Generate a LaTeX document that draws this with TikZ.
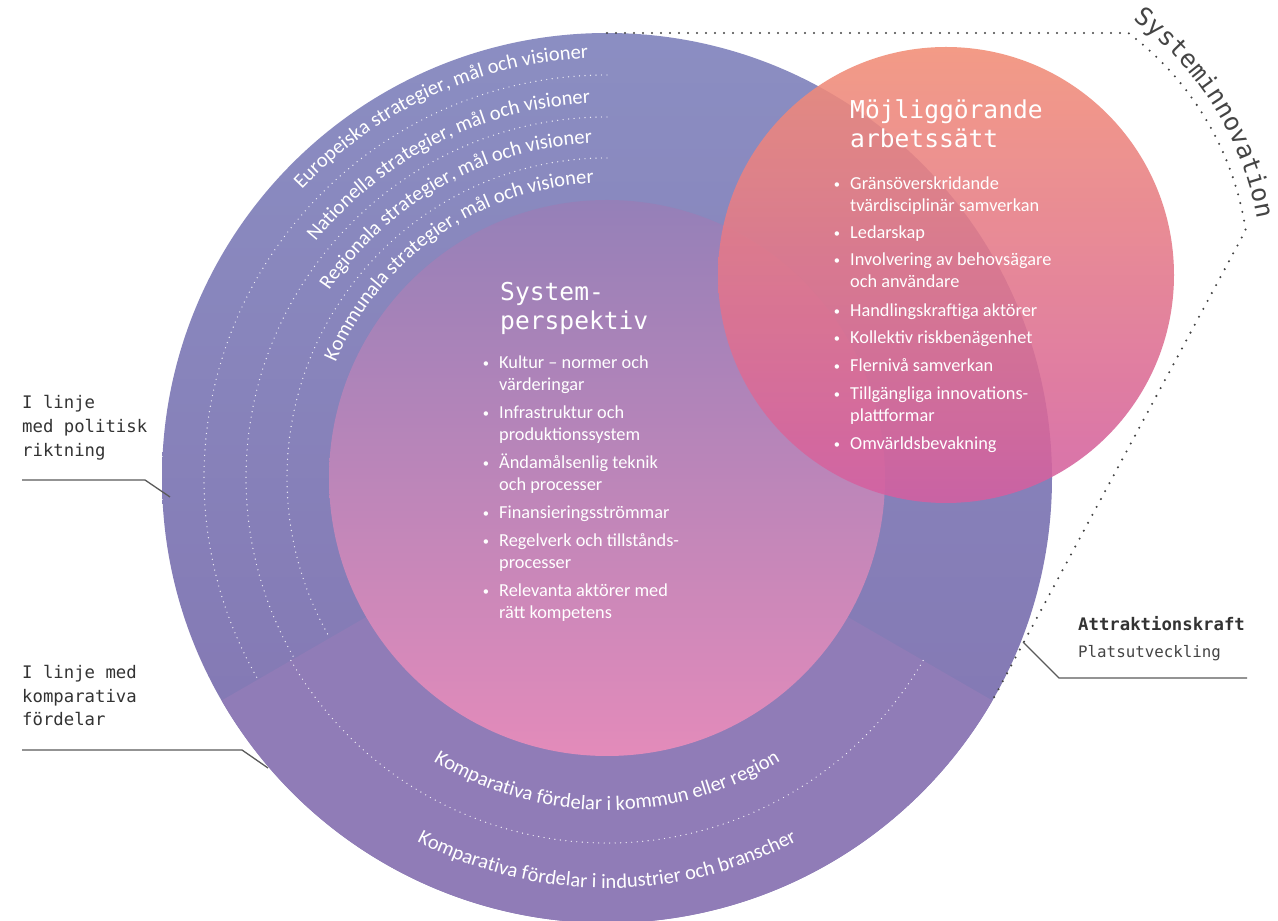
\documentclass[tikz,border=0pt]{standalone}
\usepackage{fontspec}
\setmainfont{Carlito}
\newfontfamily\monof{DejaVu Sans Mono}
\usetikzlibrary{calc,decorations.text}
\definecolor{bigtop}{HTML}{8B8EC2}
\definecolor{bigbot}{HTML}{8273B0}
\definecolor{sectorcol}{HTML}{907CB7}
\definecolor{inntop}{HTML}{9580B8}
\definecolor{innbot}{HTML}{E38BBA}
\definecolor{pinktop}{HTML}{F28E76}
\definecolor{pinkbot}{HTML}{D35FA1}
\definecolor{labelgray}{HTML}{333333}
\definecolor{leadgray}{HTML}{5A5A5A}
\definecolor{dotgray}{HTML}{444444}
\newcommand\bul{\llap{\raisebox{1.3pt}{\fontsize{12.5}{12.5}\selectfont\textbullet}\hspace{10pt}}}
\newcommand\curvefont{\fontsize{20.5}{20.5}\selectfont}
\begin{document}
\begin{tikzpicture}[x=1pt,y=1pt,
  body/.style={anchor=base west, inner sep=0pt, text=white, font=\fontsize{18.3}{18.3}\selectfont},
  titletext/.style={anchor=base west, inner sep=0pt, text=white, font=\monof\fontsize{24.6}{24.6}\selectfont},
  side/.style={anchor=base west, inner sep=0pt, text=labelgray, font=\monof\fontsize{17.3}{17.3}\selectfont},
  leader/.style={draw=leadgray, line width=1.3pt},
  whitedots/.style={draw=white, draw opacity=0.85, line width=1.4pt, line cap=round, dash pattern=on 0pt off 5.5pt},
  bracket/.style={draw=dotgray, line width=2.3pt, line cap=round, dash pattern=on 0pt off 9pt},
  curvetext/.style={decorate, decoration={text along path, text color=white}},
]
\useasboundingbox (0,0) rectangle (1278,921);
\fill[white] (0,0) rectangle (1278,921);

\coordinate (C) at (607,443);
\coordinate (P) at (946,646);
\coordinate (top) at ($(C)+(90:445)$);
\coordinate (br) at ($(C)+(330:445)$);
\coordinate (a1) at ($(P)+(53:303)$);

% big circle
\shade[top color=bigtop, bottom color=bigbot] (C) circle[radius=445];
\fill[sectorcol] (C) -- ($(C)+(210:445)$) arc[start angle=210, end angle=330, radius=445] -- cycle;

% dotted rings
\foreach \r in {403,361,320}{
  \draw[whitedots] ($(C)+(90:\r)$) arc[start angle=90, end angle=210, radius=\r];
}
\draw[whitedots] ($(C)+(210:365)$) arc[start angle=210, end angle=330, radius=365];

% inner circle
\shade[top color=inntop, bottom color=innbot] (C) circle[radius=278];

% curved ring texts
\path[curvetext, decoration={text align=right, text={|\curvefont|Europeiska strategier, mål och visioner}}]
  ($(C)+(180:420)$) arc[start angle=180, end angle=92.6, radius=420];
\path[curvetext, decoration={text align=right, text={|\curvefont|Nationella strategier, mål och visioner}}]
  ($(C)+(180:375)$) arc[start angle=180, end angle=92.6, radius=375];
\path[curvetext, decoration={text align=right, text={|\curvefont|Regionala strategier, mål och visioner}}]
  ($(C)+(180:335)$) arc[start angle=180, end angle=92.6, radius=335];
\path[curvetext, decoration={text align=right, text={|\curvefont|Kommunala strategier, mål och visioner}}]
  ($(C)+(180:295)$) arc[start angle=180, end angle=92.6, radius=295];
\path[curvetext, decoration={text align=center, text={|\curvefont|Komparativa fördelar i kommun eller region}}]
  ($(C)+(200:332)$) arc[start angle=200, end angle=340, radius=332];
\path[curvetext, decoration={text align=center, text={|\curvefont|Komparativa fördelar i industrier och branscher}}]
  ($(C)+(200:410)$) arc[start angle=200, end angle=340, radius=410];

% pink circle
\shade[top color=pinktop, bottom color=pinkbot, opacity=0.88] (P) circle[radius=228];

% titles
\node[titletext] (t1a) at (500,620) {System-};
\node[titletext] (t1b) at (500,591) {perspektiv};
\node[titletext] (t2a) at (850,802) {Möjliggörande};
\node[titletext] (t2b) at (850,773) {arbetssätt};

% Systemperspektiv list
\foreach \yy/\tt [count=\i] in {552/\bul Kultur – normer och, 530/värderingar, 502/\bul Infrastruktur och, 480/produktionssystem, 452/\bul Ändamålsenlig teknik, 430/och processer, 402/\bul Finansieringsströmmar, 374/\bul Regelverk och tillstånds-, 352/processer, 324/\bul Relevanta aktörer med, 302/rätt kompetens}{
  \node[body] (sp\i) at (499,\yy) {\tt};
}
% Möjliggörande list
\foreach \yy/\tt [count=\i] in {731/\bul Gränsöverskridande, 709/tvärdisciplinär samverkan, 682/\bul Ledarskap, 655/\bul Involvering av behovsägare, 633/och användare, 604/\bul Handlingskraftiga aktörer, 577/\bul Kollektiv riskbenägenhet, 549/\bul Flernivå samverkan, 521/\bul Tillgängliga innovations-, 499/plattformar, 471/\bul Omvärldsbevakning}{
  \node[body] (ma\i) at (850,\yy) {\tt};
}

% Systeminnovation bracket
\draw[bracket] (top) -- (a1) arc[start angle=53, end angle=8.5, radius=303] -- (br);
\path[decorate, decoration={text along path, text align=center, text color=dotgray,
  text={|\monof\fontsize{25}{25}\selectfont|Systeminnovation}}]
  ($(P)+(70:316)$) arc[start angle=70, end angle=-6, radius=316];

% side labels
\node[side] (l1a) at (22,512) {I linje};
\node[side] (l1b) at (22,488) {med politisk};
\node[side] (l1c) at (22,464) {riktning};
\coordinate (l1s) at (22,441);
\coordinate (l1k) at (145,441);
\coordinate (l1e) at (170,424);
\draw[leader] (l1s) -- (l1k) -- (l1e);

\node[side] (l2a) at (22,242) {I linje med};
\node[side] (l2b) at (22,218) {komparativa};
\node[side] (l2c) at (22,195) {fördelar};
\coordinate (l2s) at (22,171);
\coordinate (l2k) at (242,171);
\coordinate (l2e) at (268,153);
\draw[leader] (l2s) -- (l2k) -- (l2e);

\node[side, font=\monof\bfseries\fontsize{17.3}{17.3}\selectfont] (r1) at (1078,290) {Attraktionskraft};
\node[side, text=dotgray, font=\monof\fontsize{15.8}{15.8}\selectfont] (r2) at (1078,263) {Platsutveckling};
\coordinate (r3s) at (1247,243);
\coordinate (r3k) at (1059,243);
\coordinate (r3e) at (1023,279);
\draw[leader] (r3s) -- (r3k) -- (r3e);
\end{tikzpicture}
\end{document}
